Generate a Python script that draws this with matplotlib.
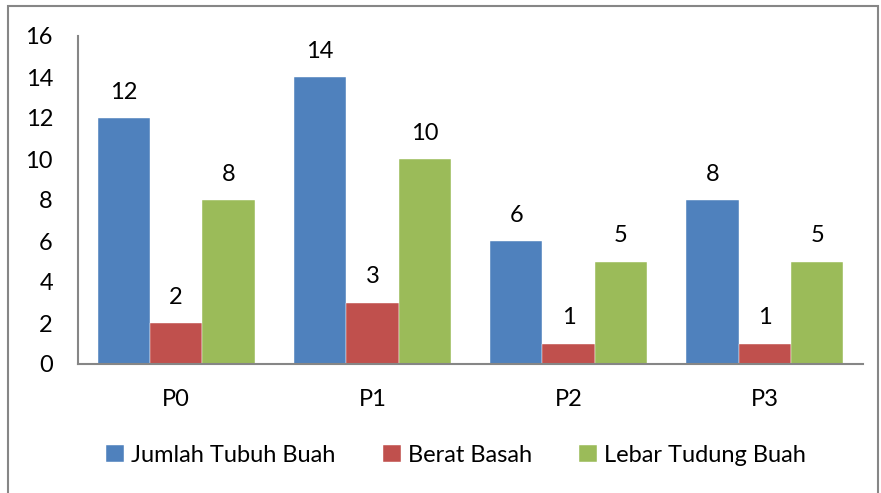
import matplotlib
matplotlib.use("Agg")
import matplotlib.pyplot as plt
import numpy as np
from matplotlib.patches import Rectangle

categories = ["P0", "P1", "P2", "P3"]
series_names = ["Jumlah Tubuh Buah", "Berat Basah", "Lebar Tudung Buah"]
jumlah = [12, 14, 6, 8]
berat = [2, 3, 1, 1]
lebar = [8, 10, 5, 5]
yticks = [0, 2, 4, 6, 8, 10, 12, 14, 16]

colors = ["#4F81BD", "#C0504D", "#9BBB59"]
plt.rcParams['font.family'] = ['Lato', 'DejaVu Sans']
FS = 17

W, H = 881, 493
fig = plt.figure(figsize=(W / 100, H / 100), dpi=100)
fig.patch.set_facecolor("white")
fig.add_artist(Rectangle((8 / W, -0.01), (878 - 8) / W, (H - 6) / H + 0.01,
                         transform=fig.transFigure, fill=False,
                         edgecolor="#868686", linewidth=1.5))

ax = fig.add_axes([78 / W, (H - 364) / H, (863 - 78) / W, (364 - 36) / H])
x = np.arange(len(categories))
bw = 0.8 / 3
for i, (vals, c, name) in enumerate(zip([jumlah, berat, lebar], colors, series_names)):
    ax.bar(x + (i - 1) * bw, vals, bw, color=c, label=name,
           edgecolor="white", linewidth=0.3)
    for xi, v in zip(x + (i - 1) * bw, vals):
        ax.annotate(str(v), (xi, v), xytext=(0, 11), textcoords="offset points",
                    ha="center", va="bottom", fontsize=FS, color="black")

ax.set_xlim(-0.5, 3.5)
ax.set_ylim(0, 16)
ax.set_yticks(yticks)
ax.set_xticks(x)
ax.set_xticklabels(categories)
ax.tick_params(axis="both", length=0, labelsize=FS, colors="black")
ax.tick_params(axis="y", pad=18)
ax.tick_params(axis="x", pad=18)
for s in ["top", "right"]:
    ax.spines[s].set_visible(False)
for s in ["left", "bottom"]:
    ax.spines[s].set_color("#868686")
    ax.spines[s].set_linewidth(1.5)

handles, labels = ax.get_legend_handles_labels()
fig.legend(handles, labels, loc="center", bbox_to_anchor=(456 / W, 1 - 455 / H),
           ncol=3, frameon=False, fontsize=FS, handlelength=0.75, handleheight=0.75,
           handletextpad=0.3, columnspacing=2.0)

fig.savefig("out.png", dpi=100)
